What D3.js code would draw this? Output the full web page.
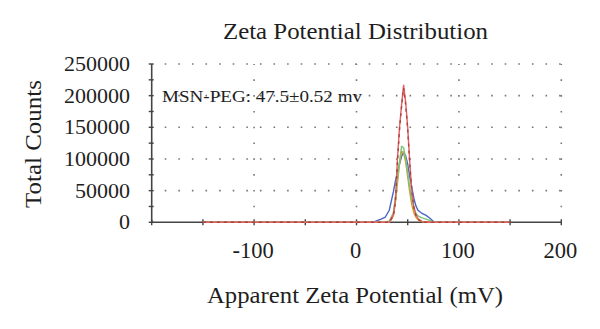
<!DOCTYPE html>
<html><head><meta charset="utf-8">
<script src="https://cdn.jsdelivr.net/npm/d3@7"></script>
<style>html,body{margin:0;padding:0;background:#fff;}svg{display:block;}</style>
</head><body>
<svg id="c" width="600" height="329"></svg>
<script>
// Data
const potentials = [-150, 16, 20, 24, 28, 32, 36, 38, 40, 42, 44, 46, 48, 50, 52, 54, 56, 58, 60, 64, 68, 72, 76, 80, 150];
const runBlue   = [0, 0, 2500, 5000, 8000, 19000, 48000, 65000, 80000, 92000, 104000, 110000, 105000, 92000, 72000, 55000, 38000, 26000, 19000, 14000, 11000, 6000, 0, 0, 0];
const runOrange = [0, 0, 0, 0, 0, 0, 10000, 32000, 62000, 92000, 112000, 110000, 95000, 72000, 48000, 28000, 15000, 8000, 4000, 1000, 0, 0, 0, 0, 0];
const runGreen  = [0, 0, 0, 0, 0, 2000, 15000, 40000, 68000, 95000, 120000, 118000, 100000, 78000, 55000, 35000, 22000, 14000, 10000, 7000, 5000, 2500, 0, 0, 0];
const runRed    = [0, 0, 0, 0, 0, 0, 12000, 35000, 100000, 150000, 185000, 217000, 190000, 150000, 95000, 50000, 25000, 12000, 6000, 1000, 0, 0, 0, 0, 0];
const runDark   = [0, 0, 0, 0, 0, 0, 10000, 32000, 96000, 146000, 182000, 212000, 186000, 146000, 92000, 48000, 23000, 11000, 5000, 0, 0, 0, 0, 0, 0];
const xTicks = [-200, -150, -100, -50, 0, 50, 100, 150, 200];
const xLabels = [-100, 0, 100, 200];
const yTicks = [0, 50000, 100000, 150000, 200000, 250000];
const yMinor = [25000, 75000, 125000, 175000, 225000];
const titleText = "Zeta Potential Distribution";
const xTitle = "Apparent Zeta Potential (mV)";
const yTitle = "Total Counts";
const note = "MSN-PEG: 47.5\u00b10.52 mv";

const svg = d3.select("#c");
const font = "'Liberation Serif', 'DejaVu Serif', serif";
const ink = "#1e1e1e";
const x = d3.scaleLinear().domain([-200, 200]).range([151.7, 561.3]);
const y = d3.scaleLinear().domain([0, 250000]).range([222.3, 64]);

// grid
const g = svg.append("g");
g.selectAll(".hg").data(yTicks.filter(v => v > 0)).join("line")
  .attr("x1", x(-200) + 13).attr("x2", x(200)).attr("y1", d => y(d)).attr("y2", d => y(d))
  .attr("stroke", "#777").attr("stroke-width", 1.6).attr("stroke-dasharray", "1.6,12");
g.selectAll(".vg").data(xLabels).join("line")
  .attr("x1", d => x(d)).attr("x2", d => x(d)).attr("y1", y(0) - 15).attr("y2", y(250000))
  .attr("stroke", "#777").attr("stroke-width", 1.6).attr("stroke-dasharray", "1.6,14.2");

// axes lines
svg.append("line").attr("x1", x(-200)).attr("x2", x(200)).attr("y1", y(0)).attr("y2", y(0)).attr("stroke", "#444").attr("stroke-width", 1.6);
svg.append("line").attr("x1", x(-200)).attr("x2", x(-200)).attr("y1", y(0)).attr("y2", y(250000)).attr("stroke", "#444").attr("stroke-width", 1.6);
svg.selectAll(".xt").data(xTicks).join("line")
  .attr("x1", d => x(d)).attr("x2", d => x(d)).attr("y1", y(0) - 3).attr("y2", y(0) + 3).attr("stroke", "#444").attr("stroke-width", 1.4);
svg.selectAll(".yt").data(yTicks.concat(yMinor)).join("line")
  .attr("x1", x(-200) - 3).attr("x2", x(-200) + 2).attr("y1", d => y(d)).attr("y2", d => y(d)).attr("stroke", "#444").attr("stroke-width", 1.4);

// labels
svg.selectAll(".yl").data(yTicks).join("text")
  .attr("x", 130).attr("y", d => y(d) + 7).attr("text-anchor", "end")
  .attr("font-family", font).attr("font-size", 22).attr("fill", ink).text(d => d);
svg.selectAll(".xl").data(xLabels).join("text")
  .attr("x", d => x(d) - 1).attr("y", 258).attr("text-anchor", "middle")
  .attr("font-family", font).attr("font-size", 22.5).attr("fill", ink).text(d => d);
svg.append("text").attr("x", 223).attr("y", 39).attr("textLength", 265).attr("lengthAdjust", "spacingAndGlyphs")
  .attr("font-family", font).attr("font-size", 24).attr("fill", ink).text(titleText);
svg.append("text").attr("x", 207).attr("y", 303).attr("textLength", 296).attr("lengthAdjust", "spacingAndGlyphs")
  .attr("font-family", font).attr("font-size", 23.5).attr("fill", ink).text(xTitle);
svg.append("text").attr("transform", "translate(41,208) rotate(-90)").attr("textLength", 128).attr("lengthAdjust", "spacingAndGlyphs")
  .attr("font-family", font).attr("font-size", 24).attr("fill", ink).text(yTitle);
svg.append("text").attr("x", 162).attr("y", 102).attr("textLength", 200).attr("lengthAdjust", "spacingAndGlyphs")
  .attr("font-family", font).attr("font-size", 17.5).attr("fill", ink).text(note);

// curves
const line = d3.line().x((d, i) => x(potentials[i])).y(d => y(d));
const series = [
  {v: runBlue, c: "#4a68c0", dash: null},
  {v: runOrange, c: "#d49a22", dash: null},
  {v: runGreen, c: "#7cc47c", dash: null},
  {v: runRed, c: "#e06262", dash: null},
  {v: runDark, c: "#b04040", dash: "3,4"}
];
svg.selectAll(".s").data(series).join("path")
  .attr("d", d => line(d.v)).attr("fill", "none").attr("stroke", d => d.c)
  .attr("stroke-width", 1.4).attr("stroke-dasharray", d => d.dash);
</script>
</body></html>
